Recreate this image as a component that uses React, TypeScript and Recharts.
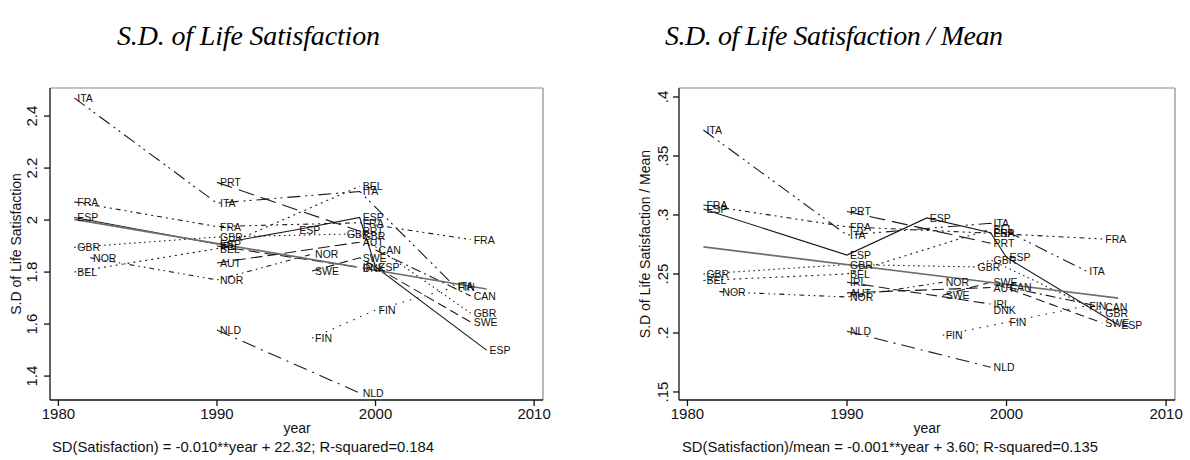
import React from 'react';
import { LineChart, Line, XAxis, YAxis, ReferenceLine, LabelList } from 'recharts';

// survey years and values per country (sd = S.D. of life satisfaction, cv = S.D. / mean)
const ITA_YEARS = [1981, 1990, 1999, 2005];
const ITA_SD = [2.47, 2.065, 2.11, 1.745];
const ITA_CV = [0.372, 0.283, 0.293, 0.2525];

const FRA_YEARS = [1981, 1990, 1999, 2006];
const FRA_SD = [2.07, 1.975, 1.99, 1.925];
const FRA_CV = [0.3085, 0.29, 0.2845, 0.2797];

const ESP_YEARS = [1981, 1990, 1995, 1999, 2000, 2007];
const ESP_SD = [2.01, 1.908, 1.963, 2.01, 1.82, 1.5];
const ESP_CV = [0.305, 0.266, 0.2975, 0.285, 0.264, 0.207];

const GBR_YEARS = [1981, 1990, 1998, 1999, 2006];
const GBR_SD = [1.895, 1.935, 1.946, 1.94, 1.642];
const GBR_CV = [0.25, 0.258, 0.256, 0.262, 0.217];

const BEL_YEARS = [1981, 1990, 1999];
const BEL_SD = [1.8, 1.89, 2.13];
const BEL_CV = [0.2445, 0.25, 0.288];

const NOR_YEARS = [1982, 1990, 1996];
const NOR_SD = [1.855, 1.77, 1.869];
const NOR_CV = [0.235, 0.2305, 0.243];

const AUT_YEARS = [1990, 1999];
const AUT_SD = [1.835, 1.915];
const AUT_CV = [0.234, 0.2385];

const PRT_YEARS = [1990, 1999];
const PRT_SD = [2.145, 1.957];
const PRT_CV = [0.303, 0.276];

const SWE_YEARS = [1996, 1999, 2006];
const SWE_SD = [1.804, 1.855, 1.608];
const SWE_CV = [0.232, 0.243, 0.2085];

const CAN_YEARS = [2000, 2006];
const CAN_SD = [1.885, 1.708];
const CAN_CV = [0.239, 0.222];

const DNK_YEARS = [1999];
const DNK_SD = [1.815];
const DNK_CV = [0.2195];

const IRL_YEARS = [1990, 1999];
const IRL_SD = [1.9, 1.818];
const IRL_CV = [0.243, 0.2245];

const FIN_YEARS = [1996, 2000, 2005];
const FIN_SD = [1.546, 1.654, 1.742];
const FIN_CV = [0.198, 0.209, 0.223];

const NLD_YEARS = [1990, 1999];
const NLD_SD = [1.577, 1.335];
const NLD_CV = [0.2015, 0.171];

// fitted line
const FIT_YEARS = [1981, 2007];
const FIT_SD = [2.003, 1.735];
const FIT_CV = [0.273, 0.2295];

const X_TICKS = [1980, 1990, 2000, 2010];
const SD_TICKS = [1.4, 1.6, 1.8, 2, 2.2, 2.4];
const CV_TICKS = [0.15, 0.2, 0.25, 0.3, 0.35, 0.4];

const SERIES = [
  { code: 'ITA', years: ITA_YEARS, sd: ITA_SD, cv: ITA_CV },
  { code: 'FRA', years: FRA_YEARS, sd: FRA_SD, cv: FRA_CV },
  { code: 'ESP', years: ESP_YEARS, sd: ESP_SD, cv: ESP_CV },
  { code: 'GBR', years: GBR_YEARS, sd: GBR_SD, cv: GBR_CV },
  { code: 'BEL', years: BEL_YEARS, sd: BEL_SD, cv: BEL_CV },
  { code: 'NOR', years: NOR_YEARS, sd: NOR_SD, cv: NOR_CV },
  { code: 'AUT', years: AUT_YEARS, sd: AUT_SD, cv: AUT_CV },
  { code: 'PRT', years: PRT_YEARS, sd: PRT_SD, cv: PRT_CV },
  { code: 'SWE', years: SWE_YEARS, sd: SWE_SD, cv: SWE_CV },
  { code: 'CAN', years: CAN_YEARS, sd: CAN_SD, cv: CAN_CV },
  { code: 'DNK', years: DNK_YEARS, sd: DNK_SD, cv: DNK_CV },
  { code: 'IRL', years: IRL_YEARS, sd: IRL_SD, cv: IRL_CV },
  { code: 'FIN', years: FIN_YEARS, sd: FIN_SD, cv: FIN_CV },
  { code: 'NLD', years: NLD_YEARS, sd: NLD_SD, cv: NLD_CV },
];

// stata-ish line patterns
const DASH: Record<string, string | undefined> = {
  ITA: '13 5 2 4 2 5',
  FRA: '5 4 2 4 2 4',
  ESP: undefined,
  GBR: '1.5 3.5',
  BEL: '2 4',
  NOR: '5 4 1.5 4 1.5 4',
  AUT: '12 5',
  PRT: '16 7',
  SWE: '9 5',
  CAN: '10 4 2 4',
  DNK: undefined,
  IRL: '11 5',
  FIN: '1.5 6',
  NLD: '14 6 2 6',
};

const SANS = '"Liberation Sans", Arial, sans-serif';
const SERIF = '"Liberation Serif", "DejaVu Serif", serif';
const X_DOMAIN: [number, number] = [1979.47, 2010.56];

const toRows = (years: number[], vals: number[]) => years.map((year, i) => ({ year, v: vals[i] }));

const VTick = (props: any) => {
  const { x, y, payload, fmt, shift } = props;
  const cx = x - shift;
  return (
    <text x={cx} y={y} dy="0.35em" textAnchor="middle" transform={`rotate(-90, ${cx}, ${y})`}
      fontSize={15} fontFamily={SANS} fill="#111">
      {fmt(payload.value)}
    </text>
  );
};

const countryLabel = (code: string) => (p: any) => {
  const vb = p.viewBox || {};
  const x = (vb.x ?? p.x) + (vb.width || 0) / 2;
  const y = (vb.y ?? p.y) + (vb.height || 0) / 2;
  return (
    <text x={x + 3} y={y} dominantBaseline="central" fontSize={10.5} fontFamily={SANS} fill="#111">
      {code}
    </text>
  );
};

type PanelProps = {
  left: number;
  width: number;
  marginLeft: number;
  marginRight: number;
  metric: 'sd' | 'cv';
  yDomain: [number, number];
  yTicks: number[];
  fmt: (v: number) => string;
  fit: number[];
  shift: number;
};

const Panel = ({ left, width, marginLeft, marginRight, metric, yDomain, yTicks, fmt, fit, shift }: PanelProps) => (
  <div style={{ position: 'absolute', left, top: 0 }}>
    <LineChart width={width} height={460} margin={{ top: 88, right: marginRight, bottom: 30, left: marginLeft }}>
      <XAxis type="number" dataKey="year" domain={X_DOMAIN} ticks={X_TICKS} allowDataOverflow height={30}
        tickSize={6} stroke="#111" strokeWidth={1.3} tick={{ fontSize: 15, fill: '#111', fontFamily: SANS }} />
      <YAxis type="number" domain={yDomain} ticks={yTicks} allowDataOverflow width={30} tickSize={6}
        stroke="#111" strokeWidth={1.3} tick={<VTick fmt={fmt} shift={shift} />} />
      <ReferenceLine y={yDomain[1]} stroke="#8a8a8a" strokeWidth={1.2} />
      <ReferenceLine x={X_DOMAIN[1]} stroke="#8a8a8a" strokeWidth={1.2} />
      {SERIES.map((s) => (
        <Line key={s.code} data={toRows(s.years, s[metric])} dataKey="v" type="linear"
          stroke={s.years.length > 1 ? '#1a1a1a' : 'none'}
          strokeWidth={1.1} strokeDasharray={DASH[s.code]} dot={false} activeDot={false} isAnimationActive={false}>
          <LabelList dataKey="v" content={countryLabel(s.code)} />
        </Line>
      ))}
      <Line data={toRows(FIT_YEARS, fit)} dataKey="v" type="linear" stroke="#6e6e6e" strokeWidth={1.7}
        dot={false} activeDot={false} isAnimationActive={false} />
    </LineChart>
  </div>
);

const fmtSd = (v: number) => String(v);
const fmtCv = (v: number) => String(v).replace(/^0/, '');

export default function App() {
  return (
    <div style={{ position: 'absolute', left: 0, top: 0, width: 1190, height: 460, background: '#fff' }}>
      <Panel left={0} width={560} marginLeft={20} marginRight={17} metric="sd" yDomain={[1.308, 2.508]}
        yTicks={SD_TICKS} fmt={fmtSd} fit={FIT_SD} shift={10} />
      <Panel left={600} width={590} marginLeft={49} marginRight={15} metric="cv" yDomain={[0.1432, 0.4076]}
        yTicks={CV_TICKS} fmt={fmtCv} fit={FIT_CV} shift={8} />
      <svg width={1190} height={460} style={{ position: 'absolute', left: 0, top: 0, pointerEvents: 'none' }}>
        <text x={117} y={45} fontFamily={SERIF} fontStyle="italic" fontSize={28}
          textLength={263} lengthAdjust="spacing" fill="#000">S.D. of Life Satisfaction</text>
        <text x={665} y={45} fontFamily={SERIF} fontStyle="italic" fontSize={28}
          textLength={338} lengthAdjust="spacing" fill="#000">S.D. of Life Satisfaction / Mean</text>
        <text x={16} y={244} textAnchor="middle" dy="0.35em" transform="rotate(-90, 16, 244)"
          fontFamily={SANS} fontSize={14} fill="#111">S.D of Life Satisfaction</text>
        <text x={645} y={244} textAnchor="middle" dy="0.35em" transform="rotate(-90, 645, 244)"
          fontFamily={SANS} fontSize={14} fill="#111">S.D of Life Satisfaction / Mean</text>
        <text x={297} y={433} textAnchor="middle" fontFamily={SANS} fontSize={14} fill="#111">year</text>
        <text x={927} y={433} textAnchor="middle" fontFamily={SANS} fontSize={14} fill="#111">year</text>
        <text x={52} y={452} fontFamily={SANS} fontSize={14.5} textLength={382} lengthAdjust="spacingAndGlyphs"
          fill="#111">SD(Satisfaction) = -0.010**year + 22.32; R-squared=0.184</text>
        <text x={682} y={452} fontFamily={SANS} fontSize={14.5} textLength={416} lengthAdjust="spacingAndGlyphs"
          fill="#111">SD(Satisfaction)/mean = -0.001**year + 3.60; R-squared=0.135</text>
      </svg>
    </div>
  );
}
